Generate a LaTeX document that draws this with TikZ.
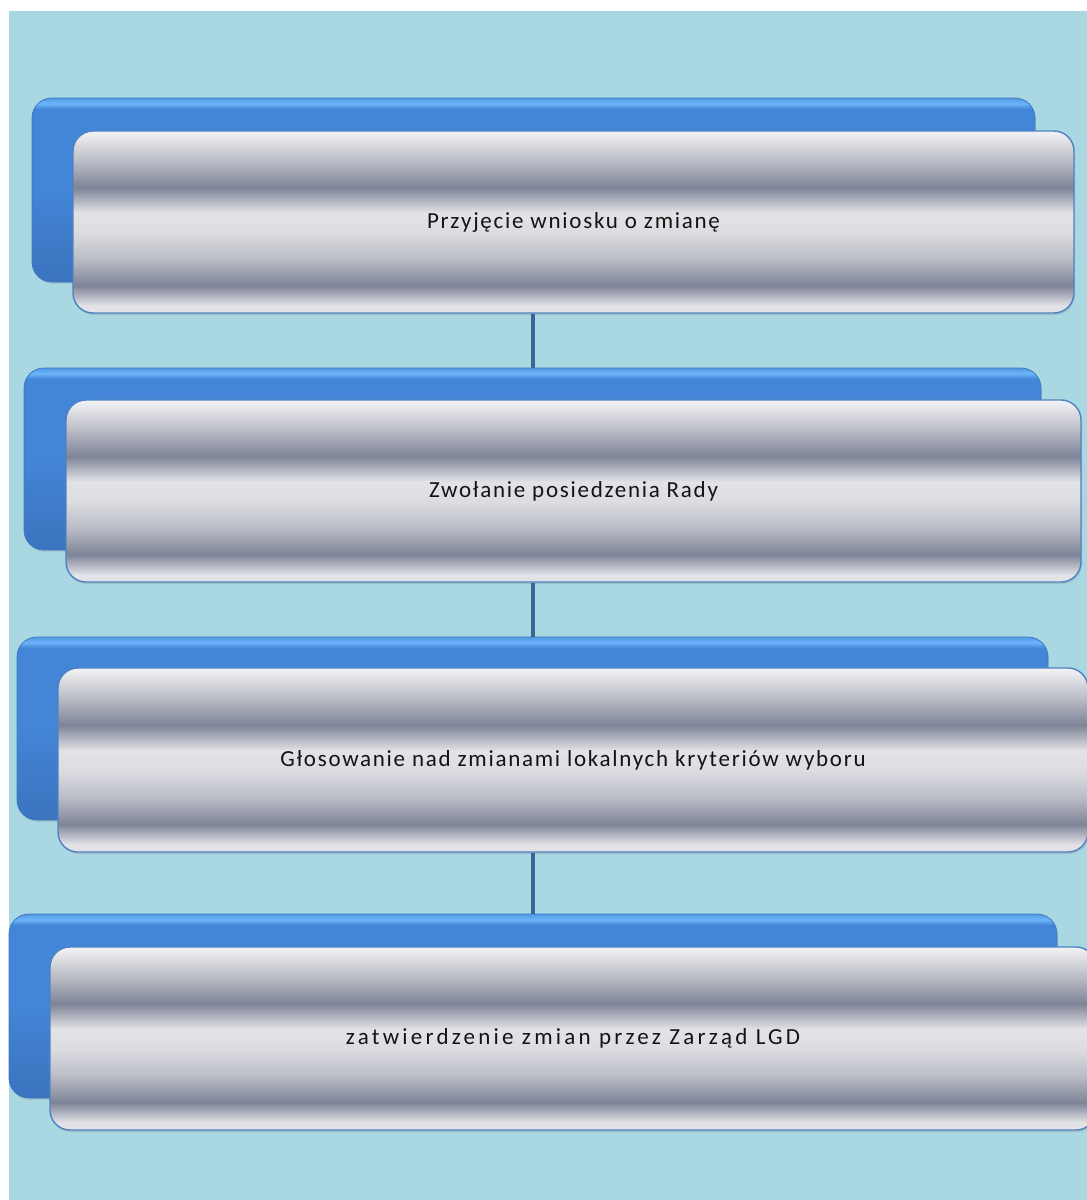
\documentclass[tikz,border=0pt]{standalone}
\usepackage{fontspec}
\setmainfont{Carlito}
\usetikzlibrary{shadows}
\usepackage{xcolor}
\definecolor{page}{HTML}{A9D8E2}
\definecolor{ink}{HTML}{141414}
\definecolor{blueTop}{HTML}{6CB5FA}
\definecolor{blueMid}{HTML}{4385D6}
\definecolor{blueLow}{HTML}{3B73BE}
\definecolor{blueEdge}{HTML}{3C78C2}
\definecolor{metalLight}{HTML}{F4F4F6}
\definecolor{metalPale}{HTML}{E3E3E7}
\definecolor{metalMid}{HTML}{BCBEC7}
\definecolor{metalDark}{HTML}{7E8498}
\definecolor{frameBlue}{HTML}{4F82C4}
\definecolor{linkBlue}{HTML}{3D6494}
\pgfdeclareverticalshading{metal}{100bp}{
  color(0bp)=(metalPale); color(25bp)=(metalPale); color(27bp)=(metalPale);
  color(32.5bp)=(metalDark); color(40bp)=(metalMid); color(47bp)=(metalPale!80!metalMid);
  color(52.5bp)=(metalPale); color(59.5bp)=(metalDark); color(67bp)=(metalMid);
  color(75bp)=(metalLight); color(100bp)=(metalLight)}
\pgfdeclareverticalshading{bluebar}{100bp}{
  color(0bp)=(blueLow); color(25bp)=(blueLow); color(50bp)=(blueMid);
  color(72bp)=(blueMid); color(73.5bp)=(blueTop); color(75bp)=(blueMid!60!blueTop); color(100bp)=(blueTop)}
\tikzset{
  backbox/.style={rounded corners=20pt, draw=blueEdge, line width=0.8pt, shading=bluebar,
    drop shadow={shadow xshift=1pt, shadow yshift=-2pt, opacity=0.2}},
  frontbox/.style={rounded corners=20pt, draw=frameBlue, line width=1.4pt, shading=metal,
    text=ink, font=\fontsize{23}{28}\selectfont\addfontfeatures{LetterSpace=7.5}, align=center,
    drop shadow={shadow xshift=1pt, shadow yshift=-2pt, opacity=0.25}},
  widetext/.style={font=\fontsize{23}{28}\selectfont\addfontfeatures{LetterSpace=14}},
  link/.style={draw=linkBlue, line width=4pt},
}

\begin{document}
\begin{tikzpicture}[x=1pt,y=-1pt]
  \useasboundingbox (0,0) rectangle (1087,1200);
  \clip (0,0) rectangle (1087,1200);
  \fill[white] (0,0) rectangle (1087,1200);
  \fill[page] (9,11) rectangle (1087,1200);

  \node[backbox,minimum width=1003pt,minimum height=184pt] (back1) at (533.5,190) {};
  \node[frontbox,minimum width=1001pt,minimum height=182pt] (step1) at (573.5,222) {Przyjęcie wniosku o zmianę};

  \node[backbox,minimum width=1017pt,minimum height=182pt] (back2) at (532.5,459) {};
  \node[frontbox,minimum width=1015pt,minimum height=182pt] (step2) at (573.5,491) {Zwołanie posiedzenia Rady};

  \node[backbox,minimum width=1031pt,minimum height=183pt] (back3) at (532.5,728.5) {};
  \node[frontbox,minimum width=1030pt,minimum height=184pt] (step3) at (573,760) {Głosowanie nad zmianami lokalnych kryteriów wyboru};

  \node[backbox,minimum width=1048pt,minimum height=184pt] (back4) at (533,1006) {};
  \node[frontbox,widetext,minimum width=1046pt,minimum height=183pt] (step4) at (573,1038.5) {zatwierdzenie zmian przez Zarząd LGD};

  \draw[link] (step1.south -| back2.north) -- (back2.north);
  \draw[link] (step2.south -| back3.north) -- (back3.north);
  \draw[link] (step3.south -| back4.north) -- (back4.north);
\end{tikzpicture}
\end{document}
